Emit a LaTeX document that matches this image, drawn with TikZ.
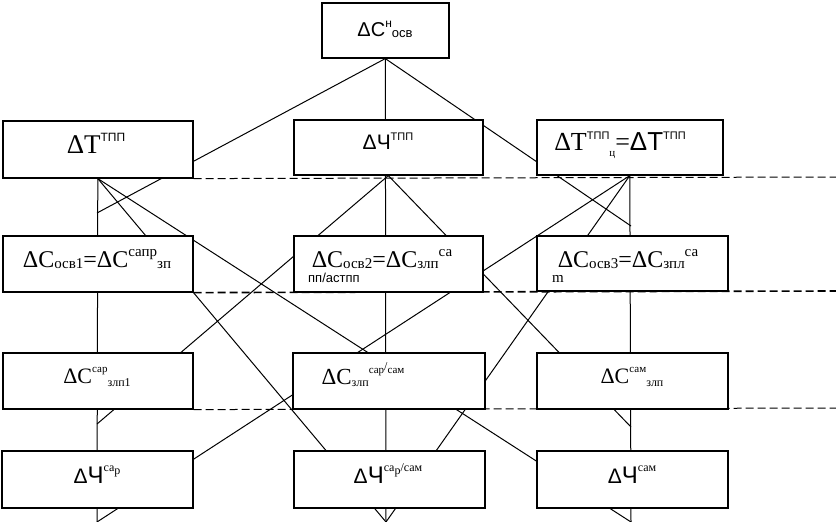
\documentclass[tikz,border=0pt]{standalone}
\usepackage{fontspec}
\setmainfont{Liberation Serif}
\setsansfont{Liberation Sans}
\usetikzlibrary{backgrounds,calc}
\newcommand\Fs[1]{\fontsize{#1}{#1}\selectfont}
\newcommand\Sp[3]{\raisebox{#1}{\fontsize{#2}{#2}\selectfont #3}}
\begin{document}
\begin{tikzpicture}[x=1pt,y=-1pt,
  boxn/.style={draw, line width=1.6pt, fill=white, inner sep=0pt, anchor=north west},
  lbl/.style={anchor=base, inner sep=0pt},
  lblw/.style={anchor=base west, inner sep=0pt},
  conn/.style={line width=1pt},
  dsh/.style={line width=1pt, dash pattern=on 8pt off 4pt},
  dshb/.style={line width=1.6pt, dash pattern=on 8pt off 4pt},
]
\useasboundingbox (0,0) rectangle (836,522);
% boxes
\node[boxn, minimum width=127pt, minimum height=55pt] (T) at (321,2) {};
\node[boxn, minimum width=190pt, minimum height=57pt] (A2) at (2,120) {};
\node[boxn, minimum width=189pt, minimum height=55pt] (B2) at (293,119) {};
\node[boxn, minimum width=186pt, minimum height=55pt] (C2) at (536,119) {};
\node[boxn, minimum width=190pt, minimum height=56pt] (A3) at (2,235) {};
\node[boxn, minimum width=189pt, minimum height=56pt] (B3) at (293,235) {};
\node[boxn, minimum width=191pt, minimum height=55pt] (C3) at (536,235) {};
\node[boxn, minimum width=190pt, minimum height=56pt] (A4) at (2,352) {};
\node[boxn, minimum width=192pt, minimum height=56pt] (B4) at (292,352) {};
\node[boxn, minimum width=191pt, minimum height=56pt] (C4) at (536,352) {};
\node[boxn, minimum width=191pt, minimum height=57pt] (A5) at (1,450) {};
\node[boxn, minimum width=191pt, minimum height=57pt] (B5) at (293,450) {};
\node[boxn, minimum width=191pt, minimum height=57pt] (C5) at (536,450) {};
% texts
\node[lbl] (tT) at (385,36) {\sffamily\Fs{20}ΔC\Sp{0.45em}{12}{н}\Sp{-0.05em}{13}{осв}};
\node[lbl] (tA2) at (96,153) {\Fs{27}ΔT\Sp{0.42em}{12}{\sffamily ТПП}};
\node[lbl] (tB2) at (388,149) {\sffamily\Fs{21}ΔЧ\Sp{0.42em}{11}{ТПП}};
\node[lbl] (tC2) at (620,150) {\Fs{26}ΔT\Sp{0.42em}{11}{\sffamily ТПП}\Sp{-0.25em}{11}{ц}=\sffamily ΔT\Sp{0.42em}{11}{ТПП}};
\node[lbl] (tA3) at (97,267) {\Fs{24}ΔC\Sp{-0.08em}{15}{осв1}=ΔC\Sp{0.45em}{15}{сапр}\Sp{-0.08em}{15}{зп}};
\node[lbl] (tB3) at (382,267) {\Fs{24}ΔC\Sp{-0.08em}{15}{осв2}=ΔC\Sp{-0.08em}{15}{злп}\Sp{0.45em}{15}{са}};
\node[lblw] (tB3b) at (308,282) {\sffamily\Fs{13}пп/астпп};
\node[lbl] (tC3) at (628,267) {\Fs{24}ΔC\Sp{-0.08em}{15}{осв3}=ΔC\Sp{-0.08em}{15}{зпл}\Sp{0.45em}{15}{са}};
\node[lblw] (tC3b) at (552,282) {\Fs{15}m};
\node[lbl] (tA4) at (97,383) {\Fs{22}ΔC\Sp{0.5em}{11}{сар}\Sp{-0.15em}{12}{злп1}};
\node[lbl] (tB4) at (363,384) {\Fs{23}ΔC\Sp{-0.1em}{12}{злп}\Sp{0.45em}{11}{сар}\Sp{0.6em}{12}{/}\Sp{0.45em}{11}{сам}};
\node[lbl] (tC4) at (632,383) {\Fs{22}ΔC\Sp{0.5em}{11}{сам}\Sp{-0.15em}{12}{злп}};
\node[lbl] (tA5) at (97,483) {\sffamily\Fs{21}Δ\Fs{24}Ч\Sp{0.5em}{12}{\rmfamily са\raisebox{-0.3em}{р}}};
\node[lbl] (tB5) at (388,483) {\sffamily\Fs{21}Δ\Fs{24}Ч\Sp{0.5em}{12}{\rmfamily са\raisebox{-0.3em}{р}/сам}};
\node[lbl] (tC5) at (632,483) {\sffamily\Fs{21}Δ\Fs{24}Ч\Sp{0.5em}{12}{\rmfamily сам}};
% connectors
\begin{pgfonlayer}{background}
\coordinate (bL) at (97,522);
\coordinate (bC) at (386,522);
\coordinate (bR) at (631,522);
\coordinate (cL1) at (97,213);
\coordinate (cR1) at (631,226);
\coordinate (cL2) at (97,424);
\coordinate (cR2) at (631,427);
\coordinate (d1) at (836,177);
\coordinate (d2) at (836,291);
\coordinate (d3) at (836,408);
\draw[conn] (A2.south) -- (bL);
\draw[conn] (T.south) -- (bC);
\draw[conn] (C2.south) -- (bR);
\draw[conn] (T.south) -- (cL1);
\draw[conn] (T.south) -- (cR1);
\draw[conn] (A2.south) -- (bR);
\draw[conn] (A2.south) -- (bC);
\draw[conn] (C2.south) -- (bL);
\draw[conn] (C2.south) -- (bC);
\draw[conn] (B2.south) -- (cL2);
\draw[conn] (B2.south) -- (cR2);
\draw[dsh] (A2.south east) -- (d1);
\draw[dshb] (A3.south east) -- (d2);
\draw[dsh] (A4.south east) -- (d3);
\end{pgfonlayer}
\end{tikzpicture}
\end{document}
